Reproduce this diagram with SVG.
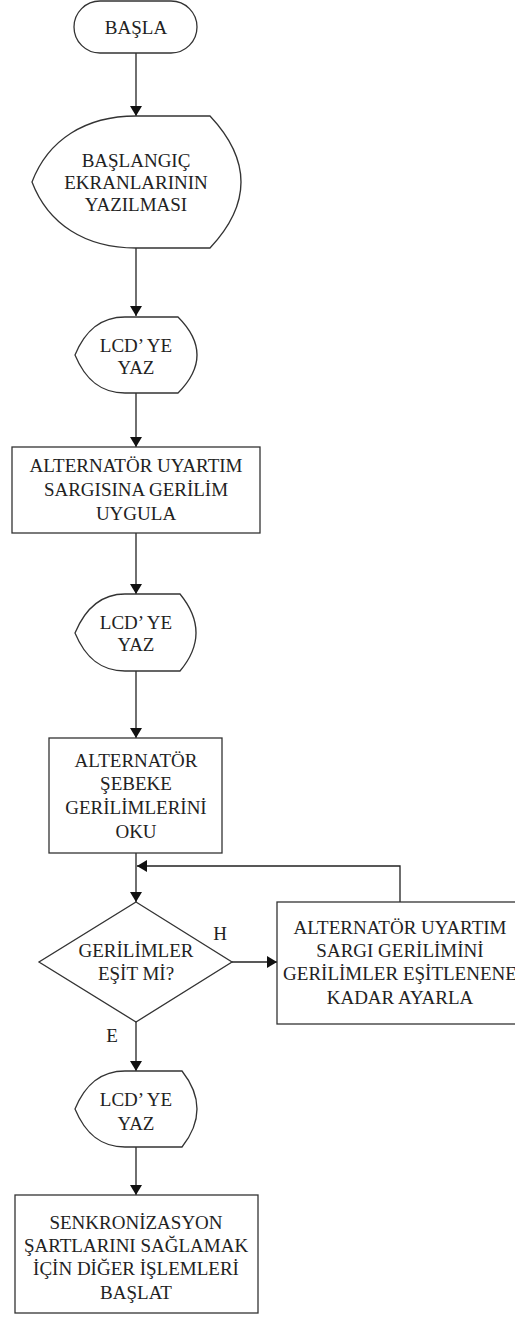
<svg xmlns="http://www.w3.org/2000/svg" width="515" height="1317" viewBox="0 0 515 1317">
<style>
.s{fill:#fff;stroke:#333;stroke-width:1.3}
.c{fill:none;stroke:#222;stroke-width:1.3}
text{font-family:'Liberation Serif','Times New Roman',Tinos,'DejaVu Serif',serif;font-size:19px;fill:#222;text-anchor:middle;dominant-baseline:central}
</style>
<defs>
<marker id="a" markerWidth="10" markerHeight="12" refX="10" refY="6" orient="auto" markerUnits="userSpaceOnUse">
<path d="M0,0 L10,6 L0,12 Z" fill="#111"/>
</marker>
</defs>
<g id="connectors">
<line class="c" x1="136" y1="53" x2="136" y2="116" marker-end="url(#a)"/>
<line class="c" x1="136" y1="248" x2="136" y2="316" marker-end="url(#a)"/>
<line class="c" x1="136" y1="393" x2="136" y2="447" marker-end="url(#a)"/>
<line class="c" x1="136" y1="533" x2="136" y2="594" marker-end="url(#a)"/>
<line class="c" x1="136" y1="671" x2="136" y2="738" marker-end="url(#a)"/>
<line class="c" x1="136" y1="853" x2="136" y2="902" marker-end="url(#a)"/>
<polyline class="c" points="400,902 400,866 137,866" marker-end="url(#a)"/>
<line class="c" x1="232" y1="962" x2="277" y2="962" marker-end="url(#a)"/>
<line class="c" x1="136" y1="1022" x2="136" y2="1071" marker-end="url(#a)"/>
<line class="c" x1="136" y1="1147" x2="136" y2="1195" marker-end="url(#a)"/>
<text x="220" y="933" font-family="Liberation Serif, serif">H</text>
<text x="112" y="1035" font-family="Liberation Serif, serif">E</text>
</g>
<g id="start">
<rect class="s" x="74" y="1" width="123" height="52" rx="26"/>
<text x="136" y="27">BAŞLA</text>
</g>
<g id="display1">
<path class="s" d="M32,182 C48,140 85,116 136,116 L210,116 Q272,182 210,248 L136,248 C85,248 48,224 32,182 Z"/>
<text x="136" y="160">BAŞLANGIÇ</text>
<text x="136" y="182">EKRANLARININ</text>
<text x="136" y="204">YAZILMASI</text>
</g>
<g id="lcd1">
<path class="s" d="M75,355 C85,331 100,317 125,317 L178,317 Q216,355 178,393 L125,393 C100,393 85,379 75,355 Z"/>
<text x="136" y="345">LCD’ YE</text>
<text x="136" y="367">YAZ</text>
</g>
<g id="apply">
<rect class="s" x="12" y="447" width="248" height="86"/>
<text x="136" y="465">ALTERNATÖR UYARTIM</text>
<text x="136" y="489">SARGISINA GERİLİM</text>
<text x="136" y="513">UYGULA</text>
</g>
<g id="lcd2">
<path class="s" d="M75,633 C85,609 100,594 125,594 L180,594 Q212,633 180,671 L125,671 C100,671 85,657 75,633 Z"/>
<text x="136" y="622">LCD’ YE</text>
<text x="136" y="644">YAZ</text>
</g>
<g id="read">
<rect class="s" x="49" y="738" width="173" height="115"/>
<text x="136" y="760">ALTERNATÖR</text>
<text x="136" y="783">ŞEBEKE</text>
<text x="136" y="807">GERİLİMLERİNİ</text>
<text x="136" y="831">OKU</text>
</g>
<g id="decision">
<polygon class="s" points="136,902 232,962 136,1022 39,962"/>
<text x="136" y="950">GERİLİMLER</text>
<text x="136" y="973">EŞİT Mİ?</text>
</g>
<g id="adjust">
<rect class="s" x="277" y="902" width="246" height="122"/>
<text x="400" y="927">ALTERNATÖR UYARTIM</text>
<text x="400" y="950">SARGI GERİLİMİNİ</text>
<text x="400" y="973">GERİLİMLER EŞİTLENENE</text>
<text x="400" y="997">KADAR AYARLA</text>
</g>
<g id="lcd3">
<path class="s" d="M75,1109 C85,1085 100,1071 125,1071 L182,1071 Q212,1109 182,1147 L125,1147 C100,1147 85,1133 75,1109 Z"/>
<text x="136" y="1099">LCD’ YE</text>
<text x="136" y="1123">YAZ</text>
</g>
<g id="end">
<rect class="s" x="15" y="1195" width="243" height="118"/>
<text x="136" y="1222">SENKRONİZASYON</text>
<text x="136" y="1245">ŞARTLARINI SAĞLAMAK</text>
<text x="136" y="1268">İÇİN DİĞER İŞLEMLERİ</text>
<text x="136" y="1292">BAŞLAT</text>
</g>
</svg>
